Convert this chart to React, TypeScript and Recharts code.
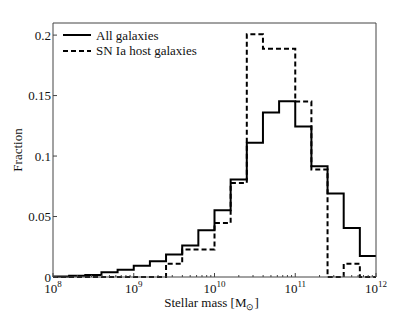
import { LineChart, Line, XAxis, YAxis, Legend } from "recharts";

// bin edges in log10(M*/Msun), 0.2 dex wide
const massEdgesLog = [8, 8.2, 8.4, 8.6, 8.8, 9, 9.2, 9.4, 9.6, 9.8, 10, 10.2, 10.4, 10.6, 10.8, 11, 11.2, 11.4, 11.6, 11.8, 12];
const allGalaxies = [0.0005, 0.001, 0.0017, 0.0039, 0.006, 0.0094, 0.013, 0.0185, 0.026, 0.0386, 0.0552, 0.0806, 0.111, 0.136, 0.1454, 0.1245, 0.0916, 0.069, 0.0406, 0.0174];
const snIaHosts = [0, 0, 0, 0, 0, 0, 0, 0.011, 0.0227, 0.0227, 0.0447, 0.0778, 0.2006, 0.1887, 0.1887, 0.145, 0.0889, 0, 0.011, 0];

const majorTicksLog = [8, 9, 10, 11, 12];
const minorMultipliers = [2, 3, 4, 5, 6, 7, 8, 9];
const fractionTicks = [0, 0.05, 0.1, 0.15, 0.2];
const fractionLabels = ["0", "0.05", "0.1", "0.15", "0.2"];

const FONT = '"Liberation Serif", "Times New Roman", serif';
const AXIS = "#444";
const INK = "#000";

// stepAfter: repeat the last bin value at the right edge
const data = massEdgesLog.map((e, i) => ({
  mass: 10 ** e,
  all: allGalaxies[Math.min(i, allGalaxies.length - 1)],
  sn: snIaHosts[Math.min(i, snIaHosts.length - 1)],
}));

const majorTicks = majorTicksLog.map((p) => 10 ** p);
const massTicks = [
  ...majorTicks,
  ...majorTicksLog.slice(0, -1).flatMap((p) => minorMultipliers.map((k) => k * 10 ** p)),
].sort((a, b) => a - b);

const isMajor = (v: number) => majorTicks.some((t) => Math.abs(t - v) / t < 1e-6);

function BottomTick({ x, y, payload }: any) {
  const v = payload.value;
  const major = isMajor(v);
  return (
    <g>
      <line x1={x} x2={x} y1={y} y2={y - (major ? 4 : 2)} stroke={AXIS} />
      {major && (
        <text x={x} y={y + 16} textAnchor="middle" fontFamily={FONT} fontSize={13} fill="#111">
          10
          <tspan fontSize={9} dy={-6}>
            {Math.round(Math.log10(v))}
          </tspan>
        </text>
      )}
    </g>
  );
}

function TopTick({ x, y, payload }: any) {
  const major = isMajor(payload.value);
  return <line x1={x} x2={x} y1={y} y2={y + (major ? 4 : 2)} stroke={AXIS} />;
}

function LeftTick({ x, y, payload, index }: any) {
  return (
    <g>
      <line x1={x} x2={x + 4} y1={y} y2={y} stroke={AXIS} />
      <text x={x - 2} y={y + 4.5} textAnchor="end" fontFamily={FONT} fontSize={13} fill="#111">
        {fractionLabels[fractionTicks.indexOf(payload.value)] ?? String(payload.value)}
      </text>
    </g>
  );
}

function RightTick({ x, y }: any) {
  return <line x1={x} x2={x - 4} y1={y} y2={y} stroke={AXIS} />;
}

function HistLegend() {
  return (
    <svg width={150} height={36} style={{ display: "block" }}>
      <line x1={8} x2={36} y1={12} y2={12} stroke={INK} strokeWidth={2} />
      <text x={41} y={16.5} fontFamily={FONT} fontSize={13} fill="#111">
        All galaxies
      </text>
      <line x1={8} x2={36} y1={28} y2={28} stroke={INK} strokeWidth={2} strokeDasharray="5 3" />
      <text x={41} y={32} fontFamily={FONT} fontSize={13} fill="#111">
        SN Ia host galaxies
      </text>
    </svg>
  );
}

export default function App() {
  return (
    <div style={{ position: "absolute", left: 0, top: 0, width: 415, height: 312, background: "#fff" }}>
      <LineChart width={415} height={312} data={data} margin={{ top: 18, right: 29, bottom: 0, left: 0 }}>
        <XAxis
          xAxisId="bottom"
          dataKey="mass"
          type="number"
          scale="log"
          domain={[1e8, 1e12]}
          allowDataOverflow
          ticks={massTicks}
          interval={0}
          tick={(p: any) => <BottomTick {...p} />}
          tickLine={false}
          tickSize={0}
          tickMargin={0}
          height={35}
          axisLine={{ stroke: AXIS }}
          label={{
            content: ({ viewBox }: any) => (
              <text
                x={viewBox.x + viewBox.width / 2 - 3}
                y={viewBox.y + 30}
                textAnchor="middle"
                fontFamily={FONT}
                fontSize={13}
                fill="#111"
              >
                Stellar mass [M
                <tspan fontSize={9} dy={3}>
                  ⊙
                </tspan>
                <tspan dy={-3}>]</tspan>
              </text>
            ),
          }}
        />
        <XAxis
          xAxisId="top"
          orientation="top"
          type="number"
          scale="log"
          domain={[1e8, 1e12]}
          allowDataOverflow
          ticks={massTicks}
          interval={0}
          tick={(p: any) => <TopTick {...p} />}
          tickLine={false}
          tickSize={0}
          tickMargin={0}
          height={5}
          axisLine={{ stroke: AXIS }}
        />
        <YAxis
          yAxisId="left"
          type="number"
          domain={[0, 0.21]}
          ticks={fractionTicks}
          interval={0}
          tick={(p: any) => <LeftTick {...p} />}
          tickLine={false}
          tickSize={0}
          tickMargin={0}
          width={53}
          axisLine={{ stroke: AXIS }}
          label={{
            content: ({ viewBox }: any) => {
              const cx = viewBox.x + 22;
              const cy = viewBox.y + viewBox.height / 2;
              return (
                <text
                  x={cx}
                  y={cy}
                  transform={`rotate(-90 ${cx} ${cy})`}
                  textAnchor="middle"
                  fontFamily={FONT}
                  fontSize={13}
                  fill="#111"
                >
                  Fraction
                </text>
              );
            },
          }}
        />
        <YAxis
          yAxisId="right"
          orientation="right"
          type="number"
          domain={[0, 0.21]}
          ticks={fractionTicks}
          interval={0}
          tick={(p: any) => <RightTick {...p} />}
          tickLine={false}
          tickSize={0}
          tickMargin={0}
          width={10}
          axisLine={{ stroke: AXIS }}
        />
        <Legend
          layout="vertical"
          align="center"
          verticalAlign="middle"
          content={() => <HistLegend />}
          wrapperStyle={{ left: 55, top: 23, width: 150 }}
        />
        <Line
          xAxisId="bottom"
          yAxisId="left"
          type="stepAfter"
          dataKey="all"
          stroke={INK}
          strokeWidth={2}
          dot={false}
          isAnimationActive={false}
        />
        <Line
          xAxisId="bottom"
          yAxisId="left"
          type="stepAfter"
          dataKey="sn"
          stroke={INK}
          strokeWidth={2}
          strokeDasharray="5 3"
          dot={false}
          isAnimationActive={false}
        />
      </LineChart>
    </div>
  );
}
